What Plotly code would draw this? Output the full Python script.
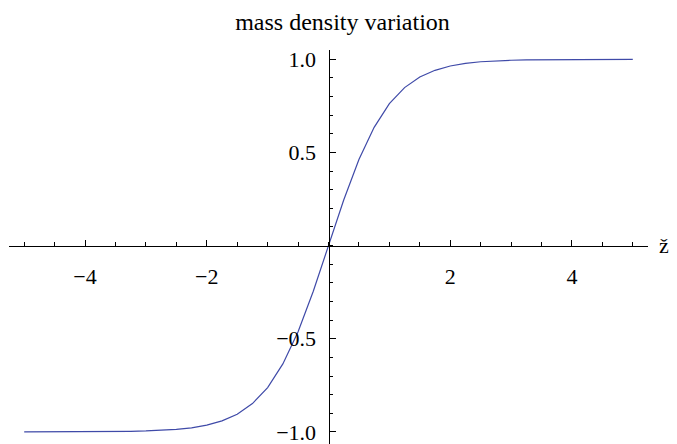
import plotly.graph_objects as go

# samples
z = [-5.0, -4.75, -4.5, -4.25, -4.0, -3.75, -3.5, -3.25, -3.0, -2.75, -2.5, -2.25,
     -2.0, -1.75, -1.5, -1.25, -1.0, -0.75, -0.5, -0.25, 0.0,
     0.25, 0.5, 0.75, 1.0, 1.25, 1.5, 1.75, 2.0, 2.25, 2.5, 2.75,
     3.0, 3.25, 3.5, 3.75, 4.0, 4.25, 4.5, 4.75, 5.0]
density = [-1.0, -1.0, -1.0, -1.0, -0.999, -0.999, -0.998, -0.997, -0.995, -0.992, -0.987, -0.978,
           -0.964, -0.941, -0.905, -0.848, -0.762, -0.635, -0.462, -0.245, 0.0,
           0.245, 0.462, 0.635, 0.762, 0.848, 0.905, 0.941, 0.964, 0.978, 0.987, 0.992,
           0.995, 0.997, 0.998, 0.999, 0.999, 1.0, 1.0, 1.0, 1.0]

x_ticks = [-4, -2, 2, 4]
x_labels = ['\u22124', '\u22122', '2', '4']
y_ticks = [-1.0, -0.5, 0.5, 1.0]
y_labels = ['\u22121.0', '\u22120.5', '0.5', '1.0']

font = 'Liberation Serif'
x_range = [-5.25, 5.25]
y_range = [-1.065, 1.05]

fig = go.Figure()
fig.add_trace(go.Scatter(x=z, y=density, mode='lines',
                         line=dict(color='#3f4aa8', width=1.2), hoverinfo='skip'))

# page body has an 8px margin, so the figure is shrunk and shifted to fit the window
fig.update_layout(
    width=669, height=436,
    margin=dict(l=1, r=29, t=42, b=0),
    paper_bgcolor='white', plot_bgcolor='white',
    showlegend=False,
    font=dict(family=font, size=22, color='black'),
    title=dict(text='mass density variation', x=0.5, xref='container', xanchor='center',
               y=0.968, yref='container', yanchor='middle', font=dict(family=font, size=24)),
)

# axes cross at the origin
x_zero = -x_range[0] / (x_range[1] - x_range[0])
y_zero = -y_range[0] / (y_range[1] - y_range[0])

fig.update_xaxes(
    range=x_range, anchor='free', position=y_zero, automargin=False,
    showgrid=False, zeroline=False, showline=True, linecolor='black', linewidth=1,
    tickvals=x_ticks, ticktext=x_labels, ticks='inside', ticklen=6, tickwidth=1,
    tickcolor='black', ticklabelstandoff=11, tickfont=dict(family=font, size=22),
    ticklabeloverflow='allow',
    minor=dict(dtick=0.5, ticks='inside', ticklen=3.5, tickcolor='black', showgrid=False),
)
fig.update_yaxes(
    range=y_range, anchor='free', position=x_zero, automargin=False,
    showgrid=False, zeroline=False, showline=True, linecolor='black', linewidth=1,
    tickvals=y_ticks, ticktext=y_labels, ticks='inside', ticklen=6, tickwidth=1,
    tickcolor='black', ticklabelstandoff=8, tickfont=dict(family=font, size=22),
    ticklabeloverflow='allow',
    minor=dict(dtick=0.1, ticks='inside', ticklen=3.5, tickcolor='black', showgrid=False),
)

fig.add_annotation(text='\u017e', xref='paper', yref='y', x=1.025, y=0,
                   xanchor='center', yanchor='middle', showarrow=False,
                   font=dict(family=font, size=22, color='black'))

fig.write_html('out.html')
